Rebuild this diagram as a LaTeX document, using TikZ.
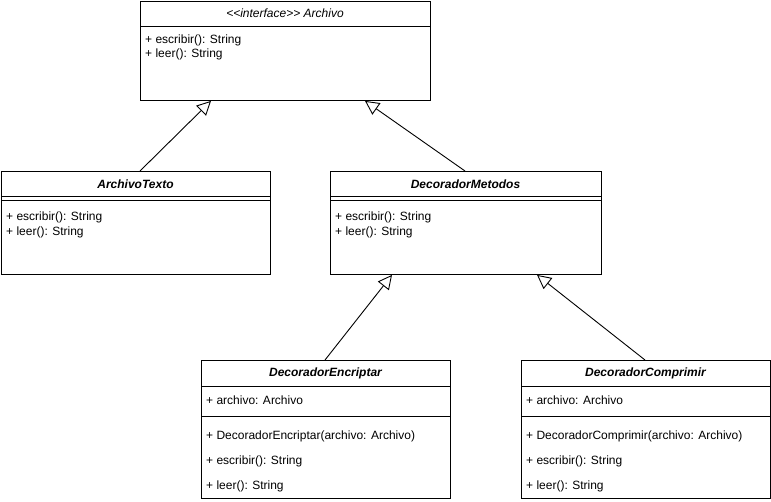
\documentclass[tikz,border=0pt]{standalone}
\usepackage{fontspec}
\setmainfont{Liberation Sans}
\usetikzlibrary{arrows.meta,calc}

\begin{document}
\begin{tikzpicture}[x=1pt,y=-1pt,
  umlbox/.style={draw=black,line width=0.9pt,fill=white,rectangle,inner sep=0pt,anchor=north west},
  sepline/.style={draw=black,line width=0.9pt},
  ctitle/.style={font=\fontsize{12}{14}\selectfont\bfseries\itshape,inner sep=0pt},
  ititle/.style={font=\fontsize{12}{14}\selectfont\itshape,inner sep=0pt},
  member/.style={font=\fontsize{12}{14}\selectfont,inner sep=0pt,anchor=west},
  inherit/.style={draw=black,line width=0.9pt,-{Triangle[open,length=14pt,width=14pt]}}
]
\useasboundingbox (0,0) rectangle (771,502);

% interface Archivo
\node[umlbox,minimum width=290pt,minimum height=99pt] (arch) at (140,1) {};
\node[ititle] (archT) at (285,13) {<{}<interface>{}> Archivo};
\draw[sepline] ($(arch.north west)+(0,25)$) -- ($(arch.north east)+(0,25)$);
\node[member] (archM1) at (145,40) {+ escribir(): String};
\node[member] (archM2) at (145,54) {+ leer(): String};

% ArchivoTexto
\node[umlbox,minimum width=269pt,minimum height=103pt] (txt) at (1,171) {};
\node[ctitle] (txtT) at (135.5,184) {ArchivoTexto};
\draw[sepline] ($(txt.north west)+(0,25)$) -- ($(txt.north east)+(0,25)$);
\draw[sepline] ($(txt.north west)+(0,29)$) -- ($(txt.north east)+(0,29)$);
\node[member] (txtM1) at (6,217) {+ escribir(): String};
\node[member] (txtM2) at (6,232) {+ leer(): String};

% DecoradorMetodos
\node[umlbox,minimum width=271pt,minimum height=103pt] (met) at (330,171) {};
\node[ctitle] (metT) at (465.5,184) {DecoradorMetodos};
\draw[sepline] ($(met.north west)+(0,25)$) -- ($(met.north east)+(0,25)$);
\draw[sepline] ($(met.north west)+(0,29)$) -- ($(met.north east)+(0,29)$);
\node[member] (metM1) at (335,217) {+ escribir(): String};
\node[member] (metM2) at (335,232) {+ leer(): String};

% DecoradorEncriptar
\node[umlbox,minimum width=249pt,minimum height=138pt] (enc) at (201,360) {};
\node[ctitle] (encT) at (325.5,373) {DecoradorEncriptar};
\draw[sepline] ($(enc.north west)+(0,26)$) -- ($(enc.north east)+(0,26)$);
\node[member] (encA1) at (206,400) {+ archivo: Archivo};
\draw[sepline] ($(enc.north west)+(0,56)$) -- ($(enc.north east)+(0,56)$);
\node[member] (encM1) at (206,436) {+ DecoradorEncriptar(archivo: Archivo)};
\node[member] (encM2) at (206,461) {+ escribir(): String};
\node[member] (encM3) at (206,486) {+ leer(): String};

% DecoradorComprimir
\node[umlbox,minimum width=249pt,minimum height=138pt] (com) at (521,360) {};
\node[ctitle] (comT) at (645.5,373) {DecoradorComprimir};
\draw[sepline] ($(com.north west)+(0,26)$) -- ($(com.north east)+(0,26)$);
\node[member] (comA1) at (526,400) {+ archivo: Archivo};
\draw[sepline] ($(com.north west)+(0,56)$) -- ($(com.north east)+(0,56)$);
\node[member] (comM1) at (526,436) {+ DecoradorComprimir(archivo: Archivo)};
\node[member] (comM2) at (526,461) {+ escribir(): String};
\node[member] (comM3) at (526,486) {+ leer(): String};

% generalisation arrows
\draw[inherit] ($(txt.north west)+(139,0)$) -- ($(arch.south west)+(71,0)$);
\draw[inherit] ($(met.north west)+(135,0)$) -- ($(arch.south west)+(225,0)$);
\draw[inherit] ($(enc.north west)+(124,0)$) -- ($(met.south west)+(62,0)$);
\draw[inherit] ($(com.north west)+(124,0)$) -- ($(met.south west)+(207,0)$);
\end{tikzpicture}
\end{document}
